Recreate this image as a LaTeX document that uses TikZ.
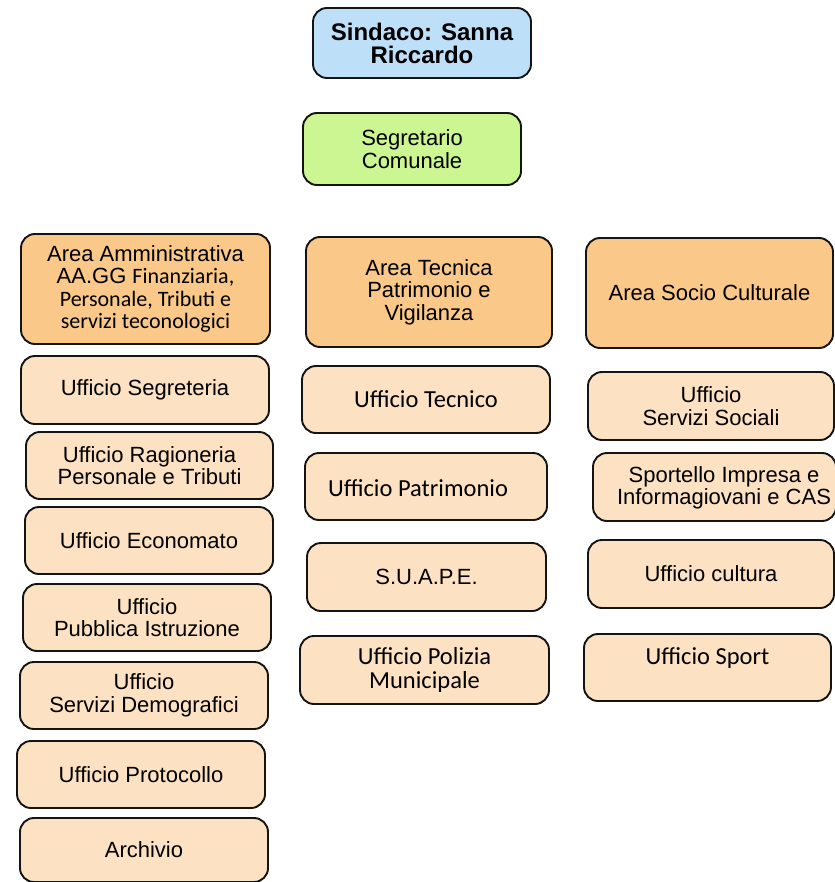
\documentclass[tikz,border=0pt]{standalone}
\usepackage{fontspec}
\setmainfont{Liberation Sans}
\newfontfamily\calibrifont{Carlito}
\definecolor{sindblue}{HTML}{BDDFF8}
\definecolor{segrgreen}{HTML}{CCF691}
\definecolor{areaorange}{HTML}{FAC98A}
\definecolor{uffpeach}{HTML}{FCE2C2}
\newcommand{\bx}[7]{\node[#6, minimum width={#4-#2}, minimum height={#5-#3}] (#1) at ({(#2+#4)/2},{(#3+#5)/2}) {#7};}
\begin{document}
\begin{tikzpicture}[x=1pt,y=-1pt,
  base/.style={draw=black!92, line width=1.9pt, rounded corners=14pt, inner sep=0pt, align=center, font=\fontsize{22}{22.5}\selectfont},
  sind/.style={base, fill=sindblue, font=\bfseries\fontsize{24}{23}\selectfont},
  segr/.style={base, fill=segrgreen},
  area/.style={base, fill=areaorange},
  uff/.style={base, fill=uffpeach},
  calt/.style={font=\calibrifont\fontsize{24.5}{24}\selectfont},
  txt/.style={inner sep=0pt, align=center, font=\fontsize{22}{22.5}\selectfont}]
\useasboundingbox (0,0) rectangle (834,882);
% top
\bx{sindaco}{313}{8}{531}{78}{sind}{Sindaco: Sanna\\Riccardo}
\bx{segretario}{303}{113}{521}{185}{segr}{Segretario\\Comunale}
% areas
\bx{areaamm}{21}{234}{270}{344}{area}{Area Amministrativa\\AA.GG {\calibrifont Finanziaria,}\\{\calibrifont Personale, Tributi e}\\{\calibrifont servizi teconologici}}
\bx{areatec}{306}{237}{552}{347}{area}{Area Tecnica\\Patrimonio e\\Vigilanza}
\bx{areasoc}{586}{238}{833}{348}{area}{Area Socio Culturale}
% left column
\bx{segreteria}{21}{356}{269}{424}{uff}{Ufficio Segreteria}
\bx{ragioneria}{26}{432}{273}{499}{uff}{Ufficio Ragioneria\\Personale e Tributi}
\bx{economato}{25}{507}{273}{574}{uff}{Ufficio Economato}
\bx{istruzione}{23}{584}{271}{651}{uff}{Ufficio\\Pubblica Istruzione}
\bx{demografici}{20}{662}{268}{729}{uff}{Ufficio\\Servizi Demografici}
\bx{protocollo}{17}{741}{265}{808}{uff}{Ufficio Protocollo}
\bx{archivio}{20}{818}{268}{882}{uff}{Archivio}
% middle column
\bx{tecnico}{302}{366}{550}{433}{uff,calt}{Ufficio Tecnico}
\bx{patrimonio}{305}{453}{547}{520}{uff}{}
\node[txt,calt] (patrimonio-t) at (418,488) {Ufficio Patrimonio};
\bx{suape}{307}{543}{546}{611}{uff}{S.U.A.P.E.}
\bx{polizia}{300}{636}{549}{704}{uff,calt}{Ufficio Polizia\\Municipale}
% right column
\bx{sociali}{588}{372}{834}{440}{uff}{Ufficio\\Servizi Sociali}
\bx{sportello}{593}{453}{836}{521}{uff}{}
\node[txt] (sportello-t) at (724,488) {Sportello Impresa e\\Informagiovani e CAS};
\bx{cultura}{588}{540}{834}{608}{uff}{Ufficio cultura}
\bx{sport}{584}{634}{831}{701}{uff}{}
\node[txt,calt] (sport-t) at (707.5,658) {Ufficio Sport};
\end{tikzpicture}
\end{document}
